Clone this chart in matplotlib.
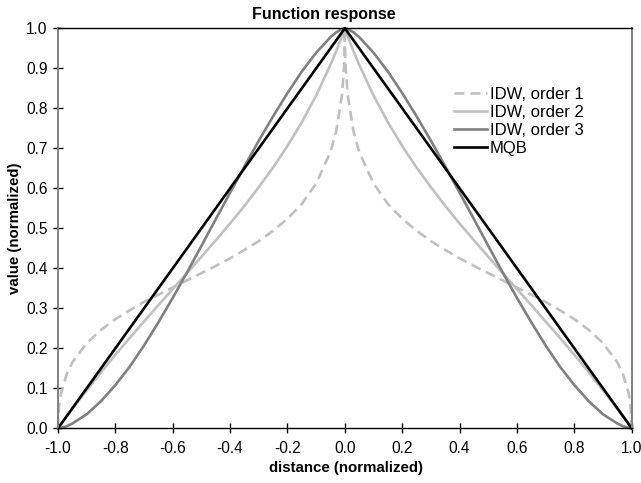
import matplotlib
matplotlib.use("Agg")
import matplotlib.pyplot as plt
from matplotlib.ticker import FormatStrFormatter, MultipleLocator
from matplotlib.transforms import ScaledTranslation

plt.rcParams['font.family'] = ['Liberation Sans', 'DejaVu Sans']
plt.rcParams['axes.unicode_minus'] = False

# distance from the centre node (curves are symmetric about 0)
dist = [0, 0.0002, 0.001, 0.003, 0.01, 0.03, 0.05, 0.1, 0.15, 0.2,
        0.25, 0.3, 0.35, 0.4, 0.45, 0.5, 0.55, 0.6, 0.65, 0.7,
        0.75, 0.8, 0.85, 0.9, 0.95, 0.97, 0.99, 0.995, 0.999, 1.0]

idw_order1 = [1.0, 0.972, 0.941, 0.901, 0.833, 0.743, 0.691, 0.612, 0.561, 0.524,
              0.494, 0.468, 0.446, 0.425, 0.406, 0.388, 0.370, 0.352, 0.334, 0.316,
              0.295, 0.273, 0.246, 0.213, 0.165, 0.135, 0.086, 0.063, 0.030, 0.0]
idw_order2 = [1.0, 1.0, 0.998, 0.994, 0.980, 0.943, 0.909, 0.832, 0.765, 0.706,
              0.652, 0.603, 0.556, 0.512, 0.470, 0.429, 0.388, 0.348, 0.308, 0.267,
              0.226, 0.184, 0.140, 0.095, 0.049, 0.030, 0.010, 0.005, 0.001, 0.0]
idw_order3 = [1.0, 1.0, 1.0, 1.0, 0.998, 0.990, 0.978, 0.939, 0.892, 0.838,
              0.780, 0.719, 0.655, 0.589, 0.523, 0.456, 0.390, 0.326, 0.265, 0.207,
              0.154, 0.108, 0.068, 0.035, 0.012, 0.005, 0.001, 0.0, 0.0, 0.0]

mqb_x = [-1.0, 0.0, 1.0]
mqb_y = [0.0, 1.0, 0.0]

labels = ['IDW, order 1', 'IDW, order 2', 'IDW, order 3', 'MQB']


def mirror(d, v):
    xs = [-a for a in d[::-1]] + d[1:]
    ys = v[::-1] + v[1:]
    return xs, ys


fig = plt.figure(figsize=(6.41, 4.83), dpi=100)
ax = fig.add_axes([58 / 641, 1 - 428.3 / 483, (631.7 - 58) / 641, 400 / 483])

x1, y1 = mirror(dist, idw_order1)
x2, y2 = mirror(dist, idw_order2)
x3, y3 = mirror(dist, idw_order3)

ax.plot(x1, y1, color='#c0c0c0', lw=1.9, ls=(0, (3.8, 2.2)), label=labels[0], clip_on=False)
ax.plot(x2, y2, color='#c0c0c0', lw=1.9, label=labels[1], clip_on=False)
ax.plot(x3, y3, color='#808080', lw=1.9, label=labels[2], clip_on=False)
ax.plot(mqb_x, mqb_y, color='black', lw=1.9, label=labels[3], clip_on=False)

ax.set_xlim(-1.0, 1.0)
ax.set_ylim(0.0, 1.0)
ax.xaxis.set_major_locator(MultipleLocator(0.2))
ax.yaxis.set_major_locator(MultipleLocator(0.1))
ax.xaxis.set_major_formatter(FormatStrFormatter('%.1f'))
ax.yaxis.set_major_formatter(FormatStrFormatter('%.1f'))
ax.tick_params(axis='both', direction='inout', length=7, width=1, labelsize=11.2)
ax.tick_params(axis='x', pad=6)
ax.tick_params(axis='y', pad=4)

for side in ('top', 'bottom'):
    ax.spines[side].set_color('black')
    ax.spines[side].set_linewidth(1.0)
for side in ('left', 'right'):
    ax.spines[side].set_color('#808080')
    ax.spines[side].set_linewidth(1.4)

# keep the last x tick label inside the canvas
fig.canvas.draw()
last = ax.get_xticklabels()[-1]
last.set_transform(last.get_transform() + ScaledTranslation(-3 / 100, 0, fig.dpi_scale_trans))

fig.text(324 / 641, 1 - 14 / 483, 'Function response', ha='center', va='center',
         fontsize=11.5, fontweight='bold')
fig.text(346 / 641, 1 - 468 / 483, 'distance (normalized)', ha='center', va='center',
         fontsize=10.8, fontweight='bold')
fig.text(15 / 641, 1 - 228 / 483, 'value (normalized)', ha='center', va='center',
         rotation=90, fontsize=10.8, fontweight='bold')

ax.legend(loc='upper left', bbox_to_anchor=(454 / 641, 1 - 87 / 483),
          bbox_transform=fig.transFigure, frameon=False, fontsize=12,
          handlelength=2.0, handletextpad=0.15, labelspacing=0.18,
          borderpad=0, borderaxespad=0)

fig.savefig('out.png', dpi=100)
